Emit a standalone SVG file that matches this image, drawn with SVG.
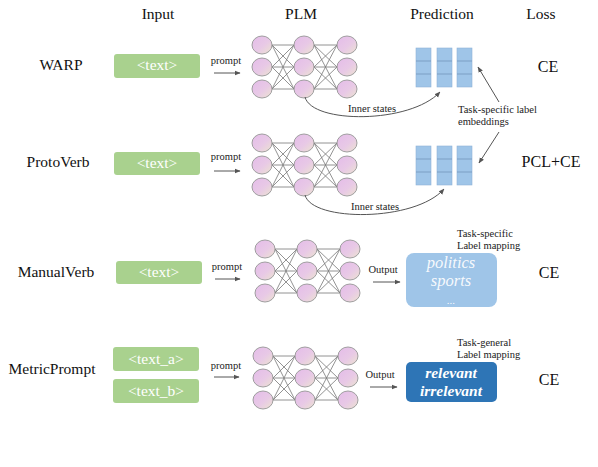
<svg xmlns="http://www.w3.org/2000/svg" width="598" height="467" viewBox="0 0 598 467">
<defs>
<linearGradient id="ng" x1="0" y1="0" x2="1" y2="1">
<stop offset="0" stop-color="#e4bce9"/>
<stop offset="0.55" stop-color="#e8c9e6"/>
<stop offset="1" stop-color="#ece4d0"/>
</linearGradient>
<marker id="ah" viewBox="0 0 10 10" refX="9" refY="5" markerWidth="6" markerHeight="6" orient="auto" markerUnits="userSpaceOnUse">
<path d="M0,1 L10,5 L0,9 z" fill="#555"/>
</marker>
<g id="net">
<g stroke="#777" stroke-width="0.8">
<line x1="10" y1="0" x2="32" y2="0"/><line x1="10" y1="0" x2="32" y2="22"/><line x1="10" y1="0" x2="32" y2="44"/>
<line x1="10" y1="22" x2="32" y2="0"/><line x1="10" y1="22" x2="32" y2="22"/><line x1="10" y1="22" x2="32" y2="44"/>
<line x1="10" y1="44" x2="32" y2="0"/><line x1="10" y1="44" x2="32" y2="22"/><line x1="10" y1="44" x2="32" y2="44"/>
<line x1="52" y1="0" x2="75" y2="0"/><line x1="52" y1="0" x2="75" y2="22"/><line x1="52" y1="0" x2="75" y2="44"/>
<line x1="52" y1="22" x2="75" y2="0"/><line x1="52" y1="22" x2="75" y2="22"/><line x1="52" y1="22" x2="75" y2="44"/>
<line x1="52" y1="44" x2="75" y2="0"/><line x1="52" y1="44" x2="75" y2="22"/><line x1="52" y1="44" x2="75" y2="44"/>
</g>
<g fill="url(#ng)" stroke="#959595" stroke-width="0.9">
<ellipse cx="0" cy="0" rx="10" ry="9"/><ellipse cx="0" cy="22" rx="10" ry="9"/><ellipse cx="0" cy="44" rx="10" ry="9"/>
<ellipse cx="42" cy="0" rx="10" ry="9"/><ellipse cx="42" cy="22" rx="10" ry="9"/><ellipse cx="42" cy="44" rx="10" ry="9"/>
<ellipse cx="85" cy="0" rx="10" ry="9"/><ellipse cx="85" cy="22" rx="10" ry="9"/><ellipse cx="85" cy="44" rx="10" ry="9"/>
</g>
</g>
<g id="emb">
<g fill="#9fc5e8" stroke="#8fb3d6" stroke-width="0.6">
<rect x="0" y="0" width="15" height="39"/>
<rect x="21" y="0" width="15" height="39"/>
<rect x="41" y="0" width="15" height="39"/>
</g>
<g stroke="#6f91b5" stroke-width="0.7">
<line x1="0" y1="13" x2="15" y2="13"/><line x1="0" y1="26" x2="15" y2="26"/>
<line x1="21" y1="13" x2="36" y2="13"/><line x1="21" y1="26" x2="36" y2="26"/>
<line x1="41" y1="13" x2="56" y2="13"/><line x1="41" y1="26" x2="56" y2="26"/>
</g>
</g>
</defs>
<style>
text { font-family: "Liberation Serif", "Times New Roman", serif; fill: #111; }
.hd { font-size: 15.5px; text-anchor: middle; }
.lb { font-size: 15.5px; text-anchor: middle; }
.ls { font-size: 16px; text-anchor: middle; }
.sm { font-size: 10.5px; fill: #222; }
.sc { font-size: 10.5px; text-anchor: middle; fill: #222; }
.in { fill: #a9d18e; }
.it { fill: #fff; font-size: 15.5px; text-anchor: middle; }
.con { fill: none; stroke: #555; stroke-width: 1; }
.mv { fill: #fff; font-size: 16.5px; font-style: italic; text-anchor: middle; fill-opacity: 0.92; }
.mp { fill: #fff; font-size: 15.5px; font-style: italic; font-weight: bold; text-anchor: middle; }
</style>
<rect width="598" height="467" fill="#fff"/>

<g id="headers">
<text class="hd" x="158" y="19">Input</text>
<text class="hd" x="301" y="19">PLM</text>
<text class="hd" x="442" y="19">Prediction</text>
<text class="hd" x="541" y="19">Loss</text>
</g>

<g id="row-labels">
<text class="lb" x="61" y="70">WARP</text>
<text class="lb" x="58" y="167">ProtoVerb</text>
<text class="lb" x="56" y="277">ManualVerb</text>
<text class="lb" x="52" y="374">MetricPrompt</text>
</g>

<g id="losses">
<text class="ls" x="548" y="72">CE</text>
<text class="ls" x="551" y="167">PCL+CE</text>
<text class="ls" x="549" y="278">CE</text>
<text class="ls" x="549" y="385">CE</text>
</g>

<g id="input-warp"><rect class="in" x="114" y="54" width="86" height="24" rx="3"/><text class="it" x="157" y="70">&lt;text&gt;</text></g>
<g id="input-protoverb"><rect class="in" x="114" y="152" width="86" height="23" rx="3"/><text class="it" x="157" y="168">&lt;text&gt;</text></g>
<g id="input-manualverb"><rect class="in" x="116" y="261" width="86" height="23" rx="3"/><text class="it" x="159" y="277">&lt;text&gt;</text></g>
<g id="input-metric-a"><rect class="in" x="113" y="347" width="86" height="24" rx="3"/><text class="it" x="156" y="364">&lt;text_a&gt;</text></g>
<g id="input-metric-b"><rect class="in" x="113" y="379" width="86" height="24" rx="3"/><text class="it" x="156" y="396">&lt;text_b&gt;</text></g>

<g id="plm-warp"><use href="#net" x="262" y="45"/></g>
<g id="plm-protoverb"><use href="#net" x="262" y="143"/></g>
<g id="plm-manualverb"><use href="#net" x="265" y="249"/></g>
<g id="plm-metric"><use href="#net" x="263" y="356"/></g>

<g id="pred-warp"><use href="#emb" x="416" y="48"/></g>
<g id="pred-protoverb"><use href="#emb" x="416" y="146"/></g>

<g id="pred-manualverb">
<rect x="406" y="253" width="91" height="54" rx="8" fill="#9fc5e8"/>
<text class="mv" x="451" y="268">politics</text>
<text class="mv" x="451" y="286">sports</text>
<text class="mv" x="451" y="304" style="font-size:11px">...</text>
</g>
<g id="pred-metric">
<rect x="406" y="362" width="91" height="40" rx="5" fill="#2e75b6"/>
<text class="mp" x="451" y="378">relevant</text>
<text class="mp" x="451" y="396">irrelevant</text>
</g>

<g id="annotations">
<text class="sm" x="458" y="113">Task-specific label</text>
<text class="sm" x="458" y="125">embeddings</text>
<text class="sm" x="457" y="237">Task-specific</text>
<text class="sm" x="457" y="249">Label mapping</text>
<text class="sm" x="457" y="346">Task-general</text>
<text class="sm" x="457" y="358">Label mapping</text>
</g>

<g id="connectors">
<text class="sc" x="226" y="64">prompt</text>
<line class="con" x1="214" y1="73" x2="240" y2="73" marker-end="url(#ah)"/>
<text class="sc" x="226" y="160">prompt</text>
<line class="con" x1="214" y1="171" x2="240" y2="171" marker-end="url(#ah)"/>
<text class="sc" x="227" y="270">prompt</text>
<line class="con" x1="215" y1="279" x2="240" y2="279" marker-end="url(#ah)"/>
<text class="sc" x="226" y="369">prompt</text>
<line class="con" x1="214" y1="377" x2="239" y2="377" marker-end="url(#ah)"/>

<path class="con" d="M305,97 C312,124 410,124 440,92" marker-end="url(#ah)"/>
<text class="sm" x="348" y="112">Inner states</text>
<path class="con" d="M305,195 C312,222 415,222 444,189" marker-end="url(#ah)"/>
<text class="sm" x="351" y="210">Inner states</text>

<line class="con" x1="499" y1="102" x2="478" y2="67" marker-end="url(#ah)"/>
<line class="con" x1="499" y1="132" x2="479" y2="163" marker-end="url(#ah)"/>

<text class="sc" x="383" y="273">Output</text>
<line class="con" x1="373" y1="282" x2="400" y2="282" marker-end="url(#ah)"/>
<text class="sc" x="380" y="378">Output</text>
<line class="con" x1="370" y1="387" x2="397" y2="387" marker-end="url(#ah)"/>
</g>
</svg>
